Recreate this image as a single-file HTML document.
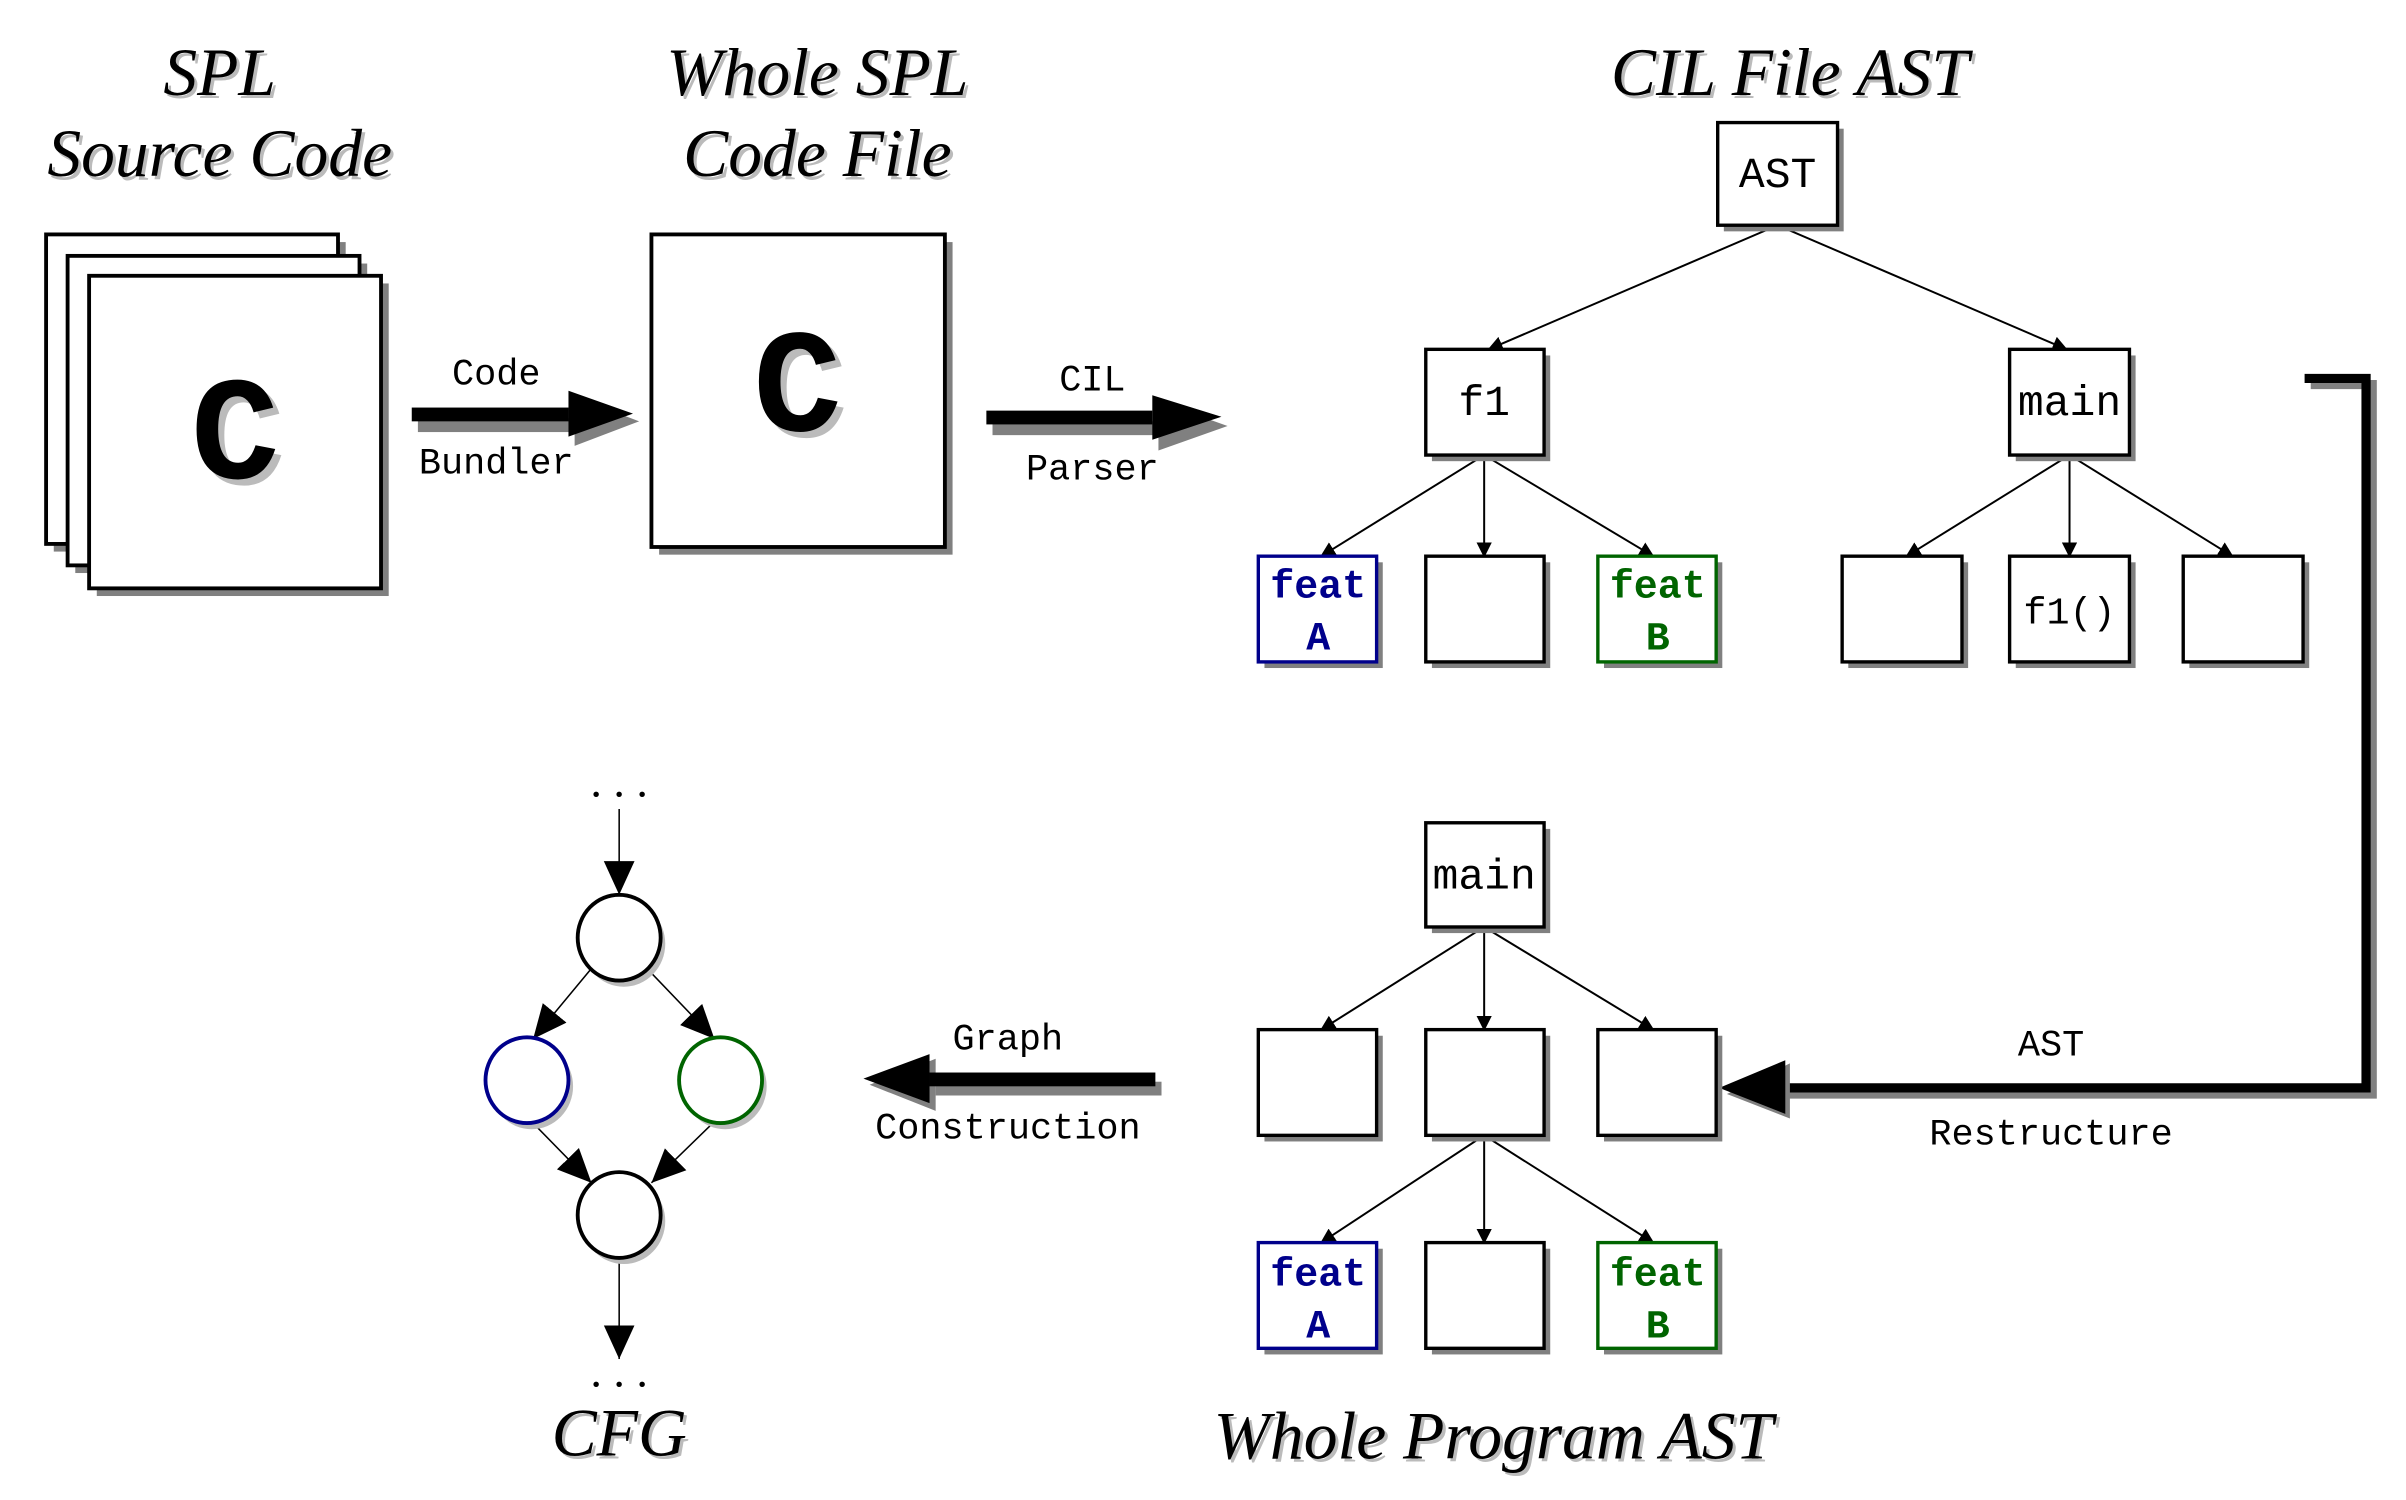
<!DOCTYPE html>
<html><head><meta charset="utf-8"><style>
html,body{margin:0;padding:0;background:#fff;}
svg{display:block}
.t{font-family:"Liberation Serif",serif;font-style:italic;font-size:44px;text-anchor:middle}
.m{font-family:"Liberation Mono",monospace;text-anchor:middle}
</style></head><body>
<svg width="2406" height="1500" viewBox="0 0 1566 979" preserveAspectRatio="none" xmlns="http://www.w3.org/2000/svg">
<defs>
<marker id="ah" markerWidth="10" markerHeight="10" refX="9" refY="5" orient="auto" markerUnits="userSpaceOnUse"><path d="M0,0 L10,5 L0,10 Z" fill="#000"/></marker>
<marker id="bh" markerWidth="24" markerHeight="28" refX="22" refY="14" orient="auto" markerUnits="userSpaceOnUse"><path d="M0,4 L22,14 L0,24 Z" fill="#000"/></marker>
</defs>
<g class="t" fill="#bbb" transform="translate(2,2)">
<text x="143" y="62">SPL</text><text x="143" y="115">Source Code</text>
<text x="532" y="62">Whole SPL</text><text x="532" y="115">Code File</text>
<text x="1165" y="62">CIL File AST</text>
<text x="403" y="950">CFG</text><text x="972" y="952">Whole Program AST</text>
</g>
<g class="t" fill="#000">
<text x="143" y="62">SPL</text><text x="143" y="115">Source Code</text>
<text x="532" y="62">Whole SPL</text><text x="532" y="115">Code File</text>
<text x="1165" y="62">CIL File AST</text>
<text x="403" y="950">CFG</text><text x="972" y="952">Whole Program AST</text>
</g>
<g stroke="#000" stroke-width="2.5">
<rect x="35" y="158" width="190" height="202" fill="#808080" stroke="none"/>
<rect x="30" y="153" width="190" height="202" fill="#fff"/>
<rect x="49" y="172" width="190" height="202" fill="#808080" stroke="none"/>
<rect x="44" y="167" width="190" height="202" fill="#fff"/>
<rect x="63" y="185" width="190" height="204" fill="#808080" stroke="none"/>
<rect x="58" y="180" width="190" height="204" fill="#fff"/>
<rect x="429" y="158" width="191" height="204" fill="#808080" stroke="none"/>
<rect x="424" y="153" width="191" height="204" fill="#fff"/>
</g>
<g class="m" font-size="96" font-weight="bold">
<text x="157" y="316" fill="#bbb">C</text><text x="153" y="312" fill="#000">C</text>
<text x="523" y="285" fill="#bbb">C</text><text x="519" y="281" fill="#000">C</text>
</g>
<g fill="#808080">
<rect x="272" y="273" width="100" height="9"/><path d="M374,259 L416,275 L374,291 Z"/>
<rect x="646" y="275" width="106" height="9"/><path d="M754,262 L799,278 L754,294 Z"/>
<rect x="609" y="706" width="147" height="9"/><path d="M609,691 L566,708 L609,725 Z"/>
</g>
<g fill="#000">
<rect x="268" y="266" width="102" height="9"/><path d="M370,255 L412,270 L370,285 Z"/>
<rect x="642" y="268" width="108" height="9"/><path d="M750,258 L795,272 L750,287 Z"/>
<rect x="605" y="700" width="147" height="9"/><path d="M605,688 L562,704 L605,720 Z"/>
</g>
<g class="m" font-size="24" fill="#000">
<text x="323" y="251">Code</text><text x="323" y="309">Bundler</text>
<text x="711" y="255">CIL</text><text x="711" y="313">Parser</text>
<text x="656" y="685">Graph</text><text x="656" y="743">Construction</text>
<text x="1335" y="689">AST</text><text x="1335" y="747">Restructure</text>
</g>
<path d="M1504,251 L1544,251 L1544,714 L1140,714" fill="none" stroke="#808080" stroke-width="6"/>
<path d="M1500,247 L1540,247 L1540,710 L1160,710" fill="none" stroke="#000" stroke-width="6"/>
<path d="M1165,694 L1124,714 L1165,730 Z" fill="#808080"/>
<path d="M1162,692 L1119,710 L1162,727 Z" fill="#000"/>
<g stroke="#000" stroke-width="1.3" marker-end="url(#ah)">
<line x1="1157" y1="147" x2="969" y2="228"/><line x1="1157" y1="147" x2="1345" y2="228"/>
<line x1="966" y1="297" x2="860" y2="363"/><line x1="966" y1="297" x2="966" y2="363"/><line x1="966" y1="297" x2="1076" y2="363"/>
<line x1="1347" y1="297" x2="1241" y2="363"/><line x1="1347" y1="297" x2="1347" y2="363"/><line x1="1347" y1="297" x2="1453" y2="363"/>
<line x1="966" y1="605" x2="860" y2="672"/><line x1="966" y1="605" x2="966" y2="672"/><line x1="966" y1="605" x2="1076" y2="672"/>
<line x1="966" y1="741" x2="860" y2="811"/><line x1="966" y1="741" x2="966" y2="811"/><line x1="966" y1="741" x2="1076" y2="811"/>
</g>
<g stroke-width="2.2">
<g fill="#808080">
<rect x="1122" y="84" width="78" height="67"/>
<rect x="932" y="232" width="77" height="69"/><rect x="1312" y="232" width="78" height="69"/>
<rect x="823" y="367" width="77" height="69"/><rect x="932" y="367" width="77" height="69"/><rect x="1044" y="367" width="77" height="69"/>
<rect x="1203" y="367" width="78" height="69"/><rect x="1312" y="367" width="78" height="69"/><rect x="1425" y="367" width="78" height="69"/>
<rect x="932" y="541" width="77" height="68"/>
<rect x="823" y="676" width="77" height="69"/><rect x="932" y="676" width="77" height="69"/><rect x="1044" y="676" width="77" height="69"/>
<rect x="823" y="815" width="77" height="69"/><rect x="932" y="815" width="77" height="69"/><rect x="1044" y="815" width="77" height="69"/>
</g>
<g fill="#fff" stroke="#000">
<rect x="1118" y="80" width="78" height="67"/>
<rect x="928" y="228" width="77" height="69"/><rect x="1308" y="228" width="78" height="69"/>
<rect x="928" y="363" width="77" height="69"/>
<rect x="1199" y="363" width="78" height="69"/><rect x="1308" y="363" width="78" height="69"/><rect x="1421" y="363" width="78" height="69"/>
<rect x="928" y="537" width="77" height="68"/>
<rect x="819" y="672" width="77" height="69"/><rect x="928" y="672" width="77" height="69"/><rect x="1040" y="672" width="77" height="69"/>
<rect x="928" y="811" width="77" height="69"/>
</g>
<g fill="#fff" stroke="#00008b">
<rect x="819" y="363" width="77" height="69"/><rect x="819" y="811" width="77" height="69"/>
</g>
<g fill="#fff" stroke="#006400">
<rect x="1040" y="363" width="77" height="69"/><rect x="1040" y="811" width="77" height="69"/>
</g>
</g>
<g class="m" font-size="28" fill="#000">
<text x="1157" y="122">AST</text><text x="966" y="271">f1</text><text x="1347" y="271">main</text>
<text x="1347" y="407" font-size="25">f1()</text><text x="966" y="580">main</text>
</g>
<g class="m" font-size="26" font-weight="bold">
<g fill="#00008b"><text x="858" y="390">feat</text><text x="858" y="424">A</text><text x="858" y="839">feat</text><text x="858" y="873">A</text></g>
<g fill="#006400"><text x="1079" y="390">feat</text><text x="1079" y="424">B</text><text x="1079" y="839">feat</text><text x="1079" y="873">B</text></g>
</g>
<g fill="#000" font-family="Liberation Serif,serif" font-size="30" text-anchor="middle"><text x="403" y="520">. . .</text><text x="403" y="905">. . .</text></g>
<g stroke="#000" stroke-width="1" fill="none" marker-end="url(#bh)">
<line x1="403" y1="528" x2="403" y2="584"/>
<line x1="385" y1="632" x2="347" y2="678"/>
<line x1="421" y1="632" x2="465" y2="678"/>
<line x1="346" y1="732" x2="385" y2="772"/>
<line x1="465" y1="732" x2="424" y2="772"/>
<line x1="403" y1="821" x2="403" y2="887"/>
</g>
<g stroke-width="2.5" fill="#fff">
<ellipse cx="406" cy="616" rx="27" ry="28" fill="#bbb" stroke="none"/>
<ellipse cx="403" cy="612" rx="27" ry="28" stroke="#000"/>
<ellipse cx="346" cy="709" rx="27" ry="28" fill="#bbb" stroke="none"/>
<ellipse cx="343" cy="705" rx="27" ry="28" stroke="#00008b"/>
<ellipse cx="472" cy="709" rx="27" ry="28" fill="#bbb" stroke="none"/>
<ellipse cx="469" cy="705" rx="27" ry="28" stroke="#006400"/>
<ellipse cx="406" cy="797" rx="27" ry="28" fill="#bbb" stroke="none"/>
<ellipse cx="403" cy="793" rx="27" ry="28" stroke="#000"/>
</g>
</svg>
</body></html>
